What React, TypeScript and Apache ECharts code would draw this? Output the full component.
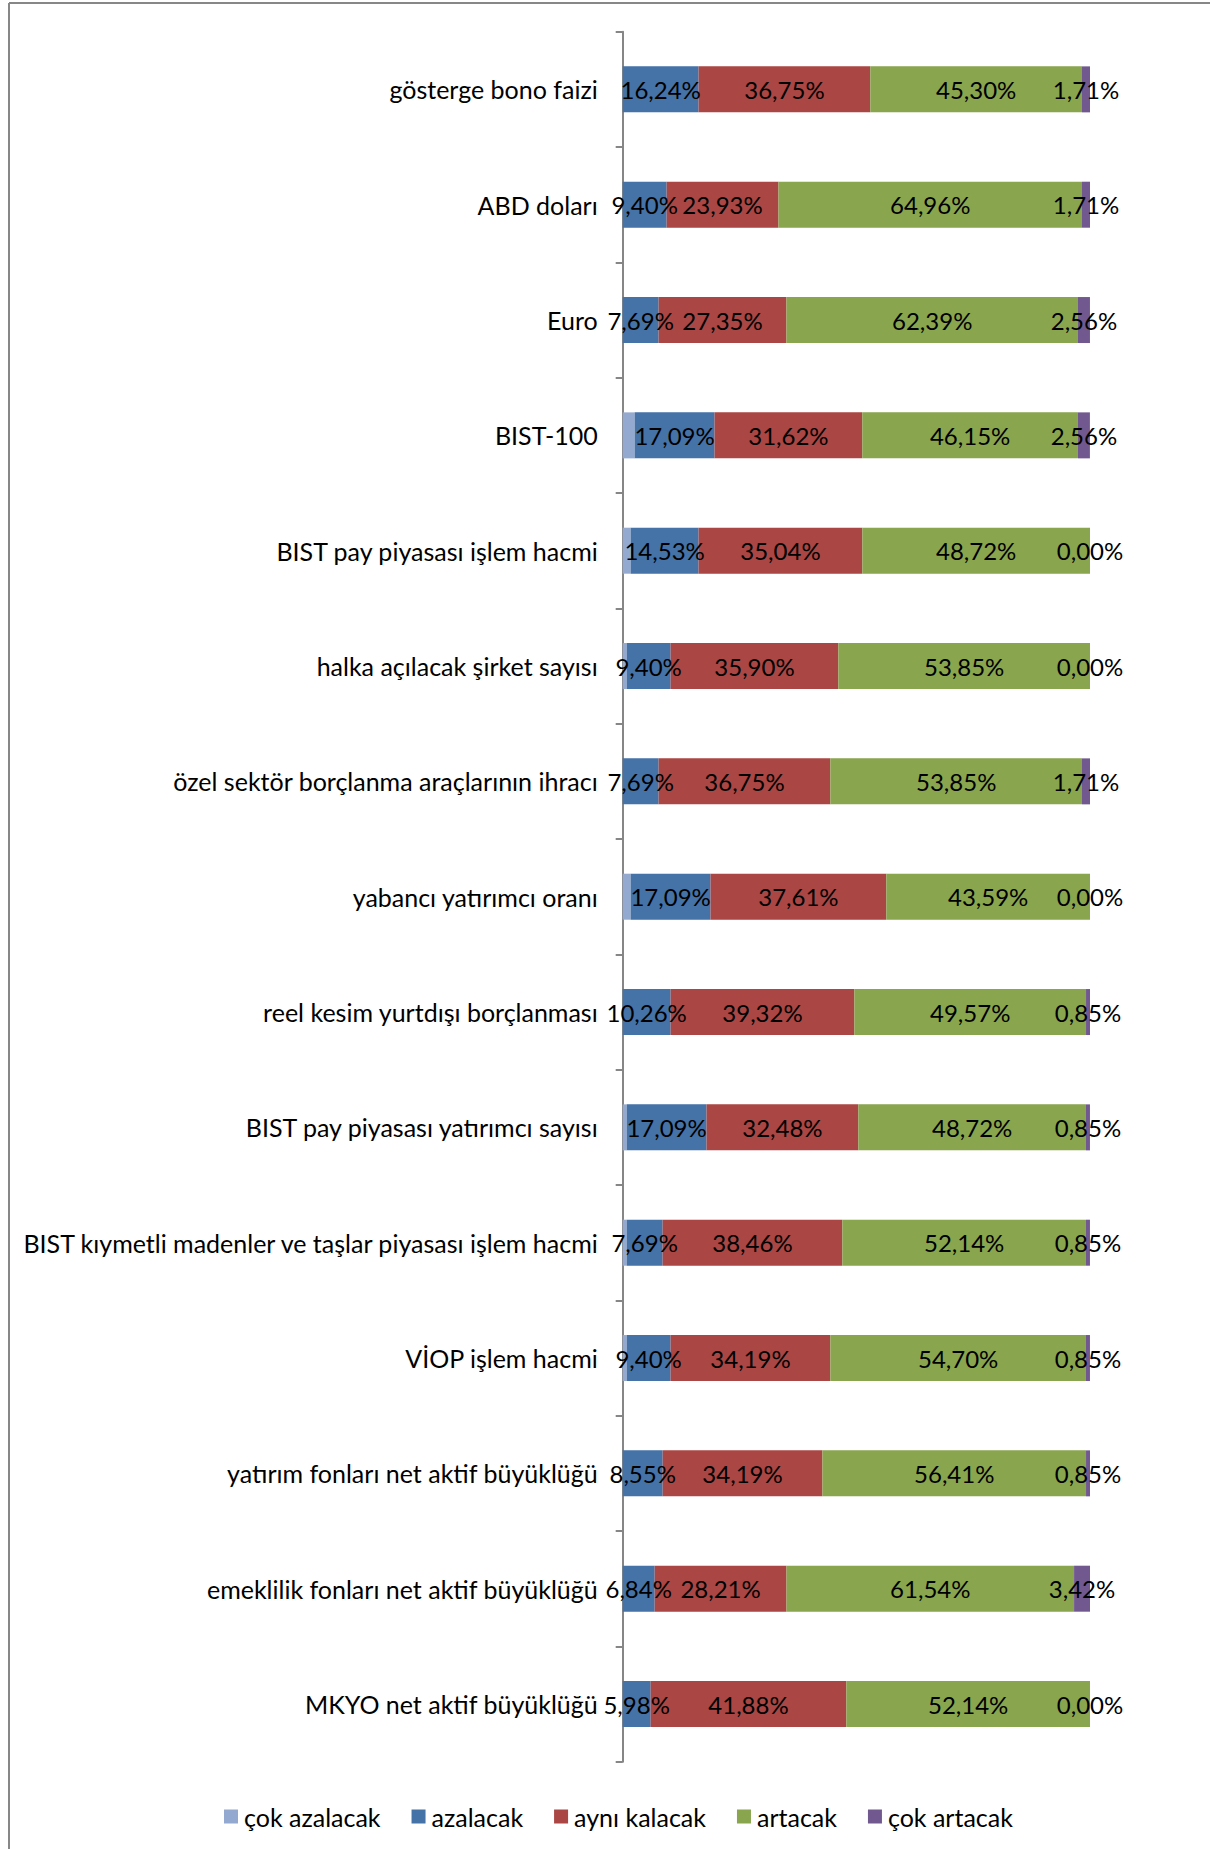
import React, { useEffect, useRef } from "react";
import * as echarts from "echarts";

const categories = [
  "gösterge bono faizi",
  "ABD doları",
  "Euro",
  "BIST-100",
  "BIST pay piyasası işlem hacmi",
  "halka açılacak şirket sayısı",
  "özel sektör borçlanma araçlarının ihracı",
  "yabancı yatırımcı oranı",
  "reel kesim yurtdışı borçlanması",
  "BIST pay piyasası yatırımcı sayısı",
  "BIST kıymetli madenler ve taşlar piyasası işlem hacmi",
  "VİOP işlem hacmi",
  "yatırım fonları net aktif büyüklüğü",
  "emeklilik fonları net aktif büyüklüğü",
  "MKYO net aktif büyüklüğü",
];

const seriesNames = ["çok azalacak", "azalacak", "aynı kalacak", "artacak", "çok artacak"];

const cokAzalacak = [0, 0, 0, 2.56, 1.71, 0.85, 0, 1.71, 0, 0.85, 0.85, 0.85, 0, 0, 0];
const azalacak = [16.24, 9.4, 7.69, 17.09, 14.53, 9.4, 7.69, 17.09, 10.26, 17.09, 7.69, 9.4, 8.55, 6.84, 5.98];
const ayniKalacak = [36.75, 23.93, 27.35, 31.62, 35.04, 35.9, 36.75, 37.61, 39.32, 32.48, 38.46, 34.19, 34.19, 28.21, 41.88];
const artacak = [45.3, 64.96, 62.39, 46.15, 48.72, 53.85, 53.85, 43.59, 49.57, 48.72, 52.14, 54.7, 56.41, 61.54, 52.14];
const cokArtacak = [1.71, 1.71, 2.56, 2.56, 0, 0, 1.71, 0, 0.85, 0.85, 0.85, 0.85, 0.85, 3.42, 0];

const colors = ["#93A9CF", "#4572A7", "#AA4643", "#89A54E", "#71588F"];

const FONT = "Lato";
const FS = 25;
const LFS = 24;

export default function App() {
  const ref = useRef<HTMLDivElement>(null);
  useEffect(() => {
    if (!ref.current) return;
    const chart = echarts.init(ref.current, null, { renderer: "svg" });
    const dataSets = [cokAzalacak, azalacak, ayniKalacak, artacak, cokArtacak];
    const fmt = (p: any) => Number(p.value).toFixed(2).replace(".", ",") + "%";
    chart.setOption({
      animation: false,
      color: colors,
      textStyle: { fontFamily: FONT },
      grid: { left: 622.7, top: 31.7, width: 467.3, height: 1730 },
      xAxis: {
        type: "value",
        min: 0,
        max: 100,
        show: false,
      },
      yAxis: {
        type: "category",
        data: categories,
        inverse: true,
        axisLine: { lineStyle: { color: "#868686", width: 2 } },
        axisTick: { show: true, length: 7, lineStyle: { color: "#868686", width: 2 } },
        axisLabel: { color: "#000", fontFamily: FONT, fontSize: FS, margin: 25 },
        splitLine: { show: false },
      },
      legend: {
        left: 219,
        top: 1799,
        itemWidth: 14,
        itemHeight: 14,
        itemGap: 31,
        icon: "rect",
        textStyle: { color: "#000", fontFamily: FONT, fontSize: FS, padding: [0, 0, 0, 1] },
        data: seriesNames,
      },
      series: dataSets.map((d, i) => ({
        name: seriesNames[i],
        type: "bar",
        stack: "total",
        barWidth: 46,
        data: d,
        label: {
          show: i > 0,
          position: "inside",
          color: "#000",
          fontFamily: FONT,
          fontSize: LFS,
          formatter: fmt,
        },
        itemStyle: { color: colors[i] },
      })),
      graphic: [
        { type: "line", shape: { x1: 9, y1: 3, x2: 1210, y2: 3 }, style: { stroke: "#878787", lineWidth: 2 } },
        { type: "line", shape: { x1: 9, y1: 3, x2: 9, y2: 1849 }, style: { stroke: "#878787", lineWidth: 2 } },
      ],
    });
    return () => chart.dispose();
  }, []);
  return (
    <div
      ref={ref}
      style={{ position: "absolute", left: 0, top: 0, width: 1210, height: 1849, background: "#fff" }}
    />
  );
}
